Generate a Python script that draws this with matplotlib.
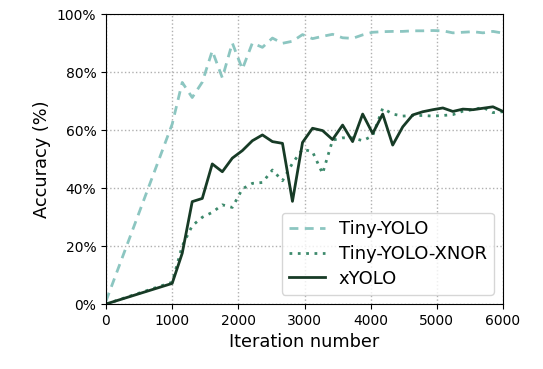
import matplotlib
matplotlib.use('Agg')
import matplotlib.pyplot as plt
from matplotlib.ticker import PercentFormatter

iters = [0, 1000, 1152, 1303, 1455, 1606, 1758, 1909, 2061, 2212, 2364, 2515,
         2667, 2818, 2970, 3121, 3273, 3424, 3576, 3727, 3879, 4030, 4182,
         4333, 4485, 4636, 4788, 4939, 5091, 5242, 5394, 5545, 5697, 5848, 6000]

tiny_yolo = [1.0, 62.0, 76.4, 71.2, 76.5, 87.3, 78.0, 90.0, 81.0, 90.0, 88.5, 91.7,
             89.9, 90.6, 92.9, 91.5, 92.3, 93.0, 91.8, 91.6, 92.8, 93.7, 93.9,
             94.0, 94.0, 94.2, 94.2, 94.3, 94.2, 93.5, 93.7, 93.9, 93.5, 94.0, 93.4]

tiny_xnor = [0.0, 7.5, 20.0, 27.0, 29.9, 31.6, 34.2, 33.3, 39.7, 41.6, 41.9, 46.2,
             42.5, 48.5, 53.4, 52.5, 45.0, 56.5, 57.3, 57.3, 56.3, 58.0, 67.5,
             65.5, 64.8, 65.0, 65.0, 64.8, 65.0, 65.3, 66.5, 67.0, 67.8, 66.0, 66.3]

xyolo = [0.0, 7.1, 17.5, 35.3, 36.4, 48.3, 45.6, 50.3, 52.9, 56.3, 58.3, 56.0,
         55.4, 35.4, 55.7, 60.6, 59.8, 56.7, 61.7, 56.0, 65.5, 58.8, 65.5,
         54.8, 61.1, 65.2, 66.3, 67.0, 67.6, 66.4, 67.2, 67.0, 67.5, 68.0, 66.4]

fig = plt.figure(figsize=(5.43, 3.69), dpi=100)
ax = fig.add_axes([106/543, 1 - 304/369, 397/543, 290/369])

ax.plot(iters, tiny_yolo, color='#8cc6c1', lw=2, ls=(0, (3.2, 2.3)), label='Tiny-YOLO')
ax.plot(iters, tiny_xnor, color='#3d8a6c', lw=2, ls=(0, (1, 2.0)), label='Tiny-YOLO-XNOR')
ax.plot(iters, xyolo, color='#173b26', lw=2, label='xYOLO')

ax.set_xlim(0, 6000)
ax.set_ylim(0, 100)
ax.set_xticks([0, 1000, 2000, 3000, 4000, 5000, 6000])
ax.set_yticks([0, 20, 40, 60, 80, 100])
ax.yaxis.set_major_formatter(PercentFormatter(decimals=0))
ax.grid(True, ls=':', color='#b0b0b0', lw=1)
ax.tick_params(labelsize=10)
ax.set_xlabel('Iteration number', fontsize=12.8)
ax.set_ylabel('Accuracy (%)', fontsize=12.8)
ax.legend(loc='lower right', fontsize=13, handlelength=2.0, handletextpad=0.75,
          labelspacing=0.38)

fig.savefig('out.png', dpi=100)
